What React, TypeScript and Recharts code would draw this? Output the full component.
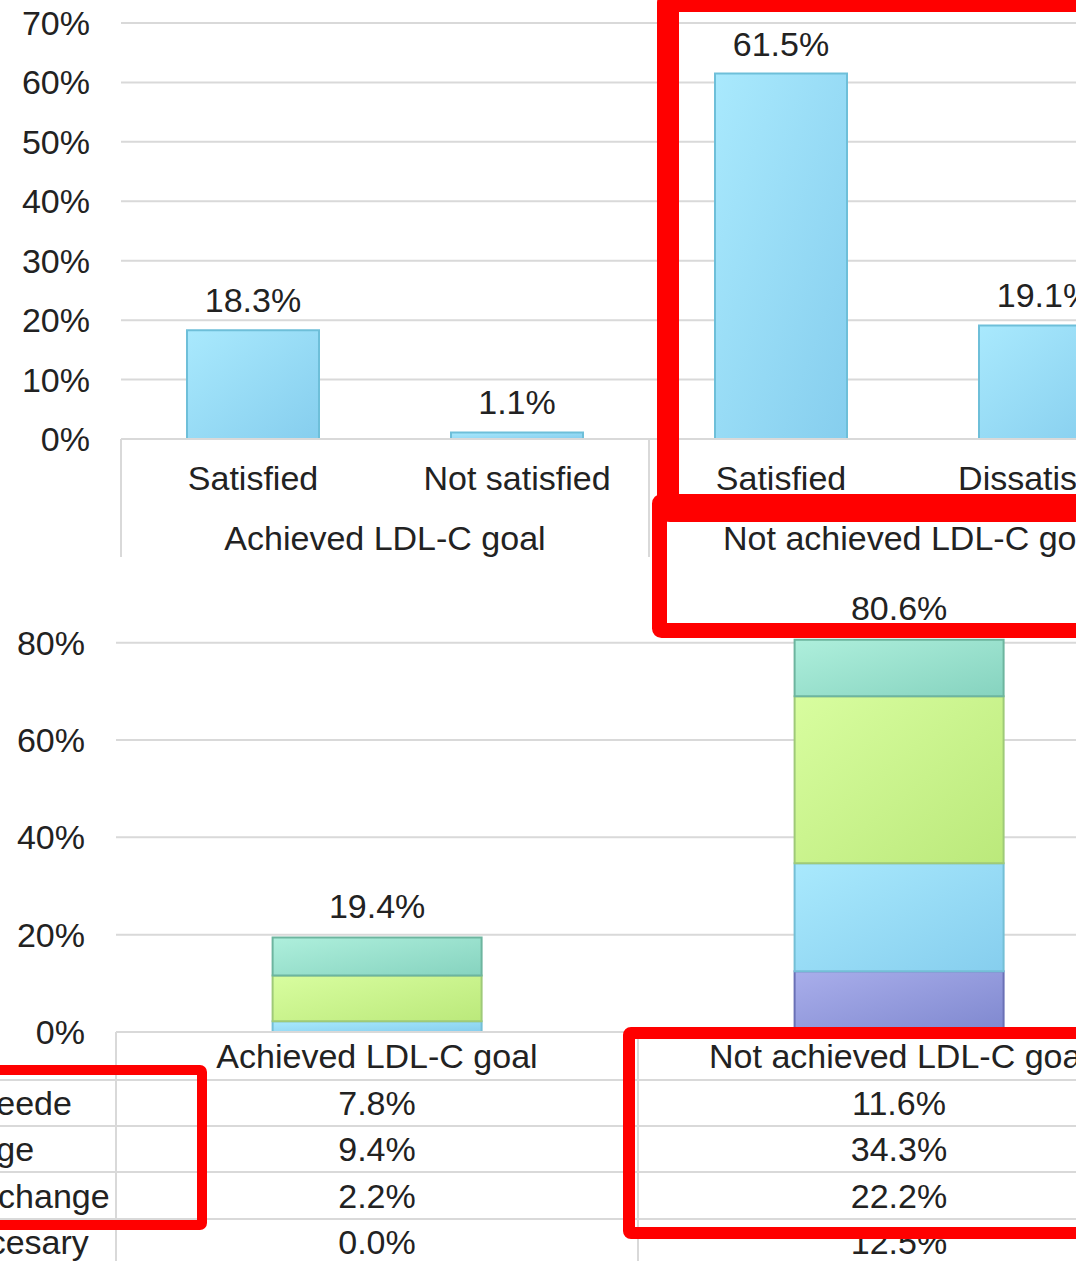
import React from 'react';
import { BarChart, Bar, XAxis, YAxis, CartesianGrid, LabelList } from 'recharts';

const FONT = '"Liberation Sans", Arial, Helvetica, sans-serif';
const TEXT = '#222222';
const GRID = '#d9d9d9';
const FS = 34;

// Satisfaction with current treatment, by LDL-C goal status
const satisfactionLabels = ['Satisfied', 'Not satisfied', 'Satisfied', 'Dissatisfied'];
const satisfactionGroups = [
  'Achieved LDL-C goal',
  'Achieved LDL-C goal',
  'Not achieved LDL-C goal',
  'Not achieved LDL-C goal',
];
const satisfactionValues = [18.3, 1.1, 61.5, 19.1];
const satisfactionTicks = [0, 10, 20, 30, 40, 50, 60, 70];

// Need for a change of treatment, by LDL-C goal status
const goalGroups = ['Achieved LDL-C goal', 'Not achieved LDL-C goal'];
const rowLabels = ['Not neede', 'Change', 'Must change', 'Is necesary'];
const row1Values = [7.8, 11.6];
const row2Values = [9.4, 34.3];
const row3Values = [2.2, 22.2];
const row4Values = [0.0, 12.5];
const changeTicks = [0, 20, 40, 60, 80];

const pct = (v: number) => `${Number(v).toFixed(1)}%`;

const satisfactionData = satisfactionLabels.map((label, i) => ({
  label,
  group: satisfactionGroups[i],
  value: satisfactionValues[i],
}));

const changeData = goalGroups.map((name, i) => ({
  name,
  r1: row1Values[i],
  r2: row2Values[i],
  r3: row3Values[i],
  r4: row4Values[i],
  total: row1Values[i] + row2Values[i] + row3Values[i] + row4Values[i],
}));

const tableRows = [
  { label: rowLabels[0], values: row1Values },
  { label: rowLabels[1], values: row2Values },
  { label: rowLabels[2], values: row3Values },
  { label: rowLabels[3], values: row4Values },
];

// Layout of the upper chart
const TOP_W = 1300;
const TOP_H = 560;
const TOP_YAXIS_W = 121;
const TOP_RIGHT = 123;
const TOP_PLOT_W = TOP_W - TOP_YAXIS_W - TOP_RIGHT;
const TOP_GROUP_HALF = TOP_PLOT_W / 4;

// Layout of the lower chart
const BOT_W = 1300;
const BOT_H = 701;
const BOT_YAXIS_W = 116;
const BOT_RIGHT = 140;
const BOT_PLOT_W = BOT_W - BOT_YAXIS_W - BOT_RIGHT;
const BOT_COL_HALF = BOT_PLOT_W / 4;
const LEGEND_COL_W = 201;
const ROW_LINES = [48, 94, 140, 187];
const ROW_CENTERS = [71, 117, 164, 210];

const textProps = {
  fontFamily: FONT,
  fontSize: FS,
  fill: TEXT,
};

const CategoryTick = (props: any) => {
  const { x, y, payload } = props;
  return (
    <text x={x} y={y + 51} textAnchor="middle" {...textProps}>
      {payload.value}
    </text>
  );
};

const GroupTick = (props: any) => {
  const { x, y, payload } = props;
  return (
    <g>
      <line x1={x - TOP_GROUP_HALF} x2={x - TOP_GROUP_HALF} y1={y - 60} y2={y + 58} stroke={GRID} strokeWidth={2} />
      <line x1={x + TOP_GROUP_HALF} x2={x + TOP_GROUP_HALF} y1={y - 60} y2={y + 58} stroke={GRID} strokeWidth={2} />
      <text x={x} y={y + 51} textAnchor="middle" {...textProps}>
        {payload.value}
      </text>
    </g>
  );
};

// One column of the data table under the stacked bars
const TableTick = (props: any) => {
  const { x, y, payload, index } = props;
  const col = payload.index ?? index ?? 0;
  const left = x - BOT_COL_HALF;
  const right = x + BOT_COL_HALF;
  return (
    <g>
      {col === 0 && (
        <g>
          <line x1={left} x2={left} y1={y} y2={y + 260} stroke={GRID} strokeWidth={2} />
          {ROW_LINES.map((dy) => (
            <line key={`l${dy}`} x1={left - LEGEND_COL_W - 100} x2={left} y1={y + dy} y2={y + dy} stroke={GRID} strokeWidth={2} />
          ))}
          {tableRows.map((r, i) => (
            <text key={r.label} x={left - LEGEND_COL_W} y={y + ROW_CENTERS[i] + 12} textAnchor="start" {...textProps}>
              {r.label}
            </text>
          ))}
        </g>
      )}
      <line x1={right} x2={right} y1={y} y2={y + 260} stroke={GRID} strokeWidth={2} />
      {ROW_LINES.map((dy) => (
        <line key={dy} x1={left} x2={right} y1={y + dy} y2={y + dy} stroke={GRID} strokeWidth={2} />
      ))}
      <text x={x} y={y + 36} textAnchor="middle" {...textProps}>
        {payload.value}
      </text>
      {tableRows.map((r, i) => (
        <text key={r.label} x={x} y={y + ROW_CENTERS[i] + 12} textAnchor="middle" {...textProps}>
          {pct(r.values[col])}
        </text>
      ))}
    </g>
  );
};

const makeValueLabel = (gap: number) => (props: any) => {
  const { x, y, width, value } = props;
  return (
    <text x={Number(x) + Number(width) / 2} y={Number(y) - gap} textAnchor="middle" {...textProps}>
      {pct(value)}
    </text>
  );
};
const BarValueLabel = makeValueLabel(18);
const StackTotalLabel = makeValueLabel(20);

const Gradients = () => (
  <svg width={0} height={0} style={{ position: 'absolute' }}>
    <defs>
      <linearGradient id="gradBlue" x1="0" y1="0" x2="1" y2="1">
        <stop offset="0%" stopColor="#a9e9fd" />
        <stop offset="100%" stopColor="#86ceee" />
      </linearGradient>
      <linearGradient id="gradTeal" x1="0" y1="0" x2="1" y2="1">
        <stop offset="0%" stopColor="#aeefdc" />
        <stop offset="100%" stopColor="#86d3bf" />
      </linearGradient>
      <linearGradient id="gradGreen" x1="0" y1="0" x2="1" y2="1">
        <stop offset="0%" stopColor="#d8fd9f" />
        <stop offset="100%" stopColor="#bbe97b" />
      </linearGradient>
      <linearGradient id="gradPurple" x1="0" y1="0" x2="1" y2="1">
        <stop offset="0%" stopColor="#a9aeeb" />
        <stop offset="100%" stopColor="#7f88cf" />
      </linearGradient>
    </defs>
  </svg>
);

const Frames = () => (
  <svg width={1076} height={1261} style={{ position: 'absolute', left: 0, top: 0, pointerEvents: 'none' }}>
    <g fill="none" stroke="#ff0000" strokeLinejoin="round">
      <rect x={668} y={1} width={600} height={510} strokeWidth={22} rx={2} />
      <rect x={659.5} y={501.5} width={600} height={129} strokeWidth={15} rx={2} />
      <rect x={-50} y={1070} width={252} height={155} strokeWidth={10} rx={2} />
      <rect x={629} y={1033} width={600} height={200} strokeWidth={12} rx={2} />
    </g>
  </svg>
);

export default function App() {
  return (
    <div
      style={{
        position: 'absolute',
        left: 0,
        top: 0,
        width: 1076,
        height: 1261,
        overflow: 'hidden',
        background: '#ffffff',
        fontFamily: FONT,
      }}
    >
      <Gradients />
      <div style={{ position: 'absolute', left: 0, top: 0 }}>
        <BarChart
          width={TOP_W}
          height={TOP_H}
          data={satisfactionData}
          margin={{ top: 23, right: TOP_RIGHT, bottom: 0, left: 0 }}
          barCategoryGap="25%"
        >
          <CartesianGrid vertical={false} stroke={GRID} strokeWidth={2} horizontalValues={satisfactionTicks} />
          <YAxis
            width={TOP_YAXIS_W}
            domain={[0, 70]}
            ticks={satisfactionTicks}
            tickFormatter={(v: number) => `${v}%`}
            axisLine={false}
            tickLine={false}
            tickSize={0}
            tickMargin={31}
            tick={{ fontSize: FS, fill: TEXT, fontFamily: FONT }}
            interval={0}
          />
          <XAxis
            dataKey="label"
            height={60}
            axisLine={{ stroke: GRID, strokeWidth: 2 }}
            tickLine={false}
            tickSize={0}
            tickMargin={0}
            interval={0}
            tick={<CategoryTick />}
          />
          <XAxis
            xAxisId="grp"
            dataKey="group"
            allowDuplicatedCategory={false}
            height={61}
            axisLine={false}
            tickLine={false}
            tickSize={0}
            tickMargin={0}
            interval={0}
            tick={<GroupTick />}
          />
          <Bar dataKey="value" fill="url(#gradBlue)" stroke="#6ebfd9" strokeWidth={2} isAnimationActive={false}>
            <LabelList dataKey="value" content={BarValueLabel} />
          </Bar>
        </BarChart>
      </div>
      <div style={{ position: 'absolute', left: 0, top: TOP_H }}>
        <BarChart
          width={BOT_W}
          height={BOT_H}
          data={changeData}
          margin={{ top: 34, right: BOT_RIGHT, bottom: 0, left: 0 }}
          barCategoryGap="30%"
        >
          <CartesianGrid vertical={false} stroke={GRID} strokeWidth={2} horizontalValues={changeTicks} />
          <YAxis
            width={BOT_YAXIS_W}
            domain={[0, 90]}
            ticks={changeTicks}
            tickFormatter={(v: number) => `${v}%`}
            axisLine={false}
            tickLine={false}
            tickSize={0}
            tickMargin={31}
            tick={{ fontSize: FS, fill: TEXT, fontFamily: FONT }}
            interval={0}
          />
          <XAxis
            dataKey="name"
            height={229}
            axisLine={{ stroke: GRID, strokeWidth: 2 }}
            tickLine={false}
            tickSize={0}
            tickMargin={0}
            interval={0}
            tick={<TableTick />}
          />
          <Bar dataKey="r4" stackId="s" fill="url(#gradPurple)" stroke="#6a71b6" strokeWidth={2} isAnimationActive={false} />
          <Bar dataKey="r3" stackId="s" fill="url(#gradBlue)" stroke="#74bfd6" strokeWidth={2} isAnimationActive={false} />
          <Bar dataKey="r2" stackId="s" fill="url(#gradGreen)" stroke="#9fca78" strokeWidth={2} isAnimationActive={false} />
          <Bar dataKey="r1" stackId="s" fill="url(#gradTeal)" stroke="#6db59f" strokeWidth={2} isAnimationActive={false}>
            <LabelList dataKey="total" content={StackTotalLabel} />
          </Bar>
        </BarChart>
      </div>
      <Frames />
    </div>
  );
}
